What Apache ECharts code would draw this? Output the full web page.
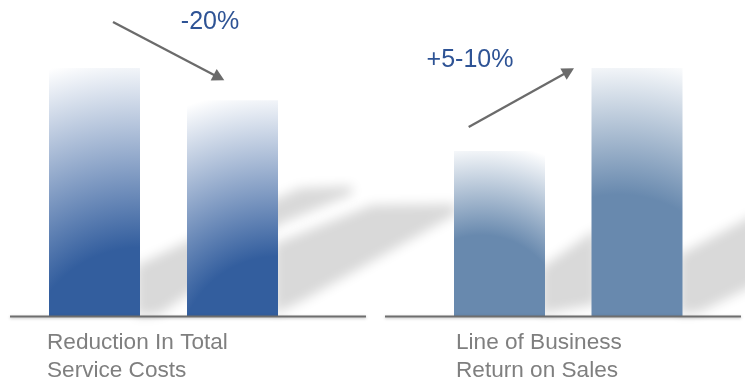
<!DOCTYPE html>
<html>
<head>
<meta charset="utf-8">
<script src="https://cdn.jsdelivr.net/npm/echarts@6/dist/echarts.min.js"></script>
<style>
html, body { margin: 0; padding: 0; background: #fff; }
#chart { width: 745px; height: 381px; }
</style>
</head>
<body>
<div id="chart"></div>
<script>
// values (tallest bar = 100)
var costCategories = ['Before', 'After'];
var costValues = [100, 87];
var salesCategories = ['Before', 'After'];
var salesValues = [66.5, 100];
var costLabel = ['Reduction In Total', 'Service Costs'];
var salesLabel = ['Line of Business', 'Return on Sales'];
var costChange = '-20%';
var salesChange = '+5-10%';

var Y_MAX = 100, PLOT_H = 248, BAR_W = 91;
var FONT = '"Liberation Sans", Arial, sans-serif';

// radial fill, dark near the base, fading to white at the top
function barFill(v, cx, cy, darkK, whiteK, color) {
    var h = v / Y_MAX * PLOT_H;
    return {
        type: 'radial', x: cx, y: cy, r: whiteK * h / BAR_W,
        colorStops: [
            { offset: 0, color: color },
            { offset: darkK / whiteK, color: color },
            { offset: 1, color: '#ffffff' }
        ]
    };
}

function arrow(x1, y1, x2, y2) {
    var dx = x2 - x1, dy = y2 - y1;
    var len = Math.sqrt(dx * dx + dy * dy);
    var ux = dx / len, uy = dy / len;
    var hl = 12, hw = 6.5;
    var bx = x2 - ux * hl, by = y2 - uy * hl;
    return [
        { type: 'line', z: 10, shape: { x1: x1, y1: y1, x2: bx + ux, y2: by + uy },
          style: { stroke: '#6b6b6b', lineWidth: 2.3 } },
        { type: 'polygon', z: 10,
          shape: { points: [[x2, y2], [bx - uy * hw, by + ux * hw], [bx + uy * hw, by - ux * hw]] },
          style: { fill: '#6b6b6b' } }
    ];
}

// the shape itself sits off the canvas, only its blurred shadow shows
var OFF = 2000;
function shadow(points) {
    return { type: 'polygon', z: 0, x: -OFF,
             shape: { points: points },
             style: { fill: '#000', shadowBlur: 12, shadowColor: '#d9d9d9', shadowOffsetX: OFF } };
}

function baseLine(x1, x2) {
    return { type: 'line', z: 8, shape: { x1: x1, y1: 316.5, x2: x2, y2: 316.5 },
             style: { stroke: '#6e6e6e', lineWidth: 2, shadowBlur: 3, shadowColor: 'rgba(0,0,0,0.25)', shadowOffsetY: 1 } };
}

function label(x, lines) {
    return { type: 'text', z: 10, x: x, y: 356.5,
             style: { text: lines.join('\n'), font: '22.6px ' + FONT, fill: '#7f7f7f',
                      lineHeight: 28, textAlign: 'left', textVerticalAlign: 'middle' } };
}

function change(x, y, txt) {
    return { type: 'text', z: 10, x: x, y: y,
             style: { text: txt, font: '25px ' + FONT, fill: '#2e5395',
                      textAlign: 'center', textVerticalAlign: 'middle' } };
}

var chart = echarts.init(document.getElementById('chart'));

var graphics = [
    shadow([[136, 316], [136, 266], [280, 197], [300, 188], [352, 186], [352, 194], [280, 224], [187, 295], [160, 314]]),
    shadow([[274, 314], [274, 244], [372, 205], [456, 204], [456, 214], [300, 302]]),
    shadow([[541, 314], [541, 268], [597, 229], [597, 304]]),
    shadow([[679, 314], [679, 255], [760, 212], [760, 282], [700, 312]]),
    baseLine(10, 366),
    baseLine(385, 741),
    label(47, costLabel),
    label(456, salesLabel),
    change(210, 22.5, costChange),
    change(470, 60.5, salesChange)
].concat(arrow(113, 22, 224.3, 80.3)).concat(arrow(468.7, 127, 574, 68.3));

chart.setOption({
    backgroundColor: '#fff',
    animation: false,
    grid: [
        { left: 25.5, width: 276, top: 68, height: PLOT_H },
        { left: 430.75, width: 275, top: 68, height: PLOT_H }
    ],
    xAxis: [
        { type: 'category', gridIndex: 0, data: costCategories, show: false },
        { type: 'category', gridIndex: 1, data: salesCategories, show: false }
    ],
    yAxis: [
        { type: 'value', gridIndex: 0, min: 0, max: Y_MAX, show: false },
        { type: 'value', gridIndex: 1, min: 0, max: Y_MAX, show: false }
    ],
    series: [
        {
            type: 'bar', xAxisIndex: 0, yAxisIndex: 0, barWidth: BAR_W, z: 2,
            data: costValues.map(function (v) {
                return { value: v, itemStyle: { color: barFill(v, 1.0, 1.18, 0.456, 1.23, '#335e9e') } };
            })
        },
        {
            type: 'bar', xAxisIndex: 1, yAxisIndex: 1, barWidth: BAR_W, z: 2,
            data: salesValues.map(function (v) {
                return { value: v, itemStyle: { color: barFill(v, 0.3, 1.0, 0.49, 1.05, '#6889ae') } };
            })
        }
    ],
    graphic: graphics
});

window.onresize = chart.resize;
</script>
</body>
</html>
